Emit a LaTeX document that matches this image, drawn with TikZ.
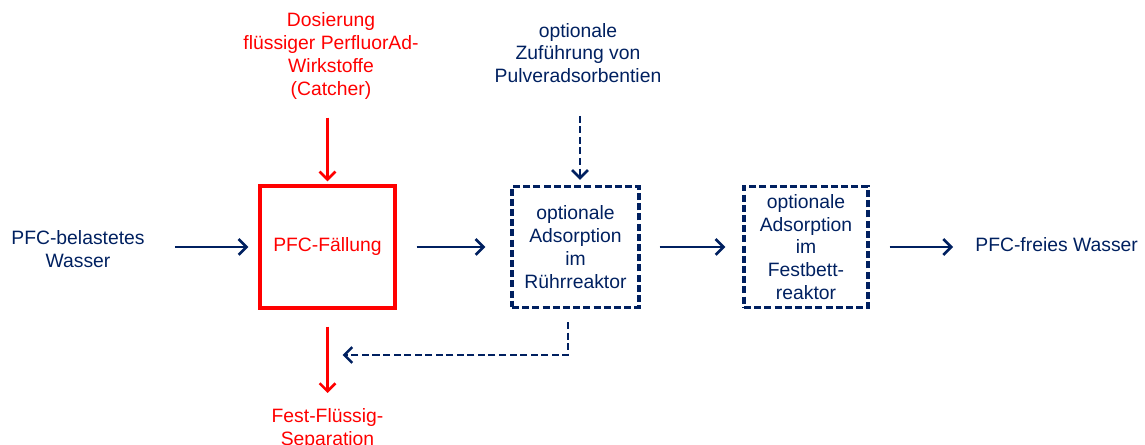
\documentclass[tikz,border=0pt]{standalone}
\usepackage{fontspec}
\setmainfont{Liberation Sans}
\usetikzlibrary{arrows.meta}
\definecolor{cred}{HTML}{FF0000}
\definecolor{cnavy}{HTML}{002060}

\begin{document}
\begin{tikzpicture}[font=\fontsize{11}{13}\selectfont,
    txt/.style={align=center,inner sep=0pt},
    flow/.style={-{Straight Barb[length=4.5pt,width=9pt]},line width=1.5pt,cnavy},
    rflow/.style={flow,cred},
    dflow/.style={flow,dash pattern=on 4pt off 2pt},
    redbox/.style={draw=cred,line width=1.8pt,minimum width=2.7cm,minimum height=2.44cm,
      text=cred,align=center,inner sep=1pt},
    optbox/.style={draw=cnavy,line width=1.8pt,dash pattern=on 4pt off 1.8pt,
      minimum width=2.5cm,minimum height=2.42cm,text=cnavy,align=center,inner sep=1pt}]
    \useasboundingbox (0,0) rectangle (22.9,8.9);
    % ---- main line
    \node[txt,text=cnavy] (inwater) at (1.56,3.92) {PFC-belastetes\\Wasser};
    \node[redbox] (faell) at (6.55,3.96) {PFC-Fällung};
    \node[optbox,minimum width=2.54cm] (ruehr) at (11.51,3.96) {optionale\\Adsorption\\im\\Rührreaktor};
    \node[optbox,minimum width=2.48cm] (festbett) at (16.12,3.96) {optionale\\Adsorption\\im\\Festbett-\\reaktor};
    \node[txt,anchor=west,text=cnavy] (outwater) at (19.5,4.0) {PFC-freies Wasser};
    \draw[flow,shorten <=0.6cm,shorten >=0.2cm] (inwater.east |- faell.west) -- (faell.west);
    \draw[flow,shorten <=0.4cm,shorten >=0.5cm] (faell.east) -- (ruehr.west);
    \draw[flow,shorten <=0.38cm,shorten >=0.34cm] (ruehr.east) -- (festbett.west);
    \draw[flow,shorten <=0.4cm,shorten >=0.44cm] (festbett.east) -- (outwater.west |- festbett.east);
    % ---- feeds from above
    \node[txt,text=cred] (dosier) at (6.62,7.78) {Dosierung\\flüssiger PerfluorAd-\\Wirkstoffe\\(Catcher)};
    \node[txt,text=cnavy] (pulver) at (11.56,7.84) {optionale\\Zuführung von\\Pulveradsorbentien};
    \draw[rflow,shorten <=0.36cm,shorten >=0.06cm] (faell.north |- dosier.south) -- (faell.north);
    \draw[dflow,shorten <=0.65cm,shorten >=0.1cm] ([xshift=0.09cm]ruehr.north |- pulver.south) -- ([xshift=0.09cm]ruehr.north);
    % ---- separation and return
    \node[txt,anchor=north,text=cred] (separ) at (6.55,0.74) {Fest-Flüssig-\\Separation};
    \draw[rflow,shorten <=0.34cm,shorten >=0.3cm] (faell.south) -- (faell.south |- separ.north);
    \coordinate (ret) at (6.85,1.8);
    \draw[dflow,shorten <=0.26cm] ([xshift=-0.15cm]ruehr.south) |- (ret);
\end{tikzpicture}
\end{document}
